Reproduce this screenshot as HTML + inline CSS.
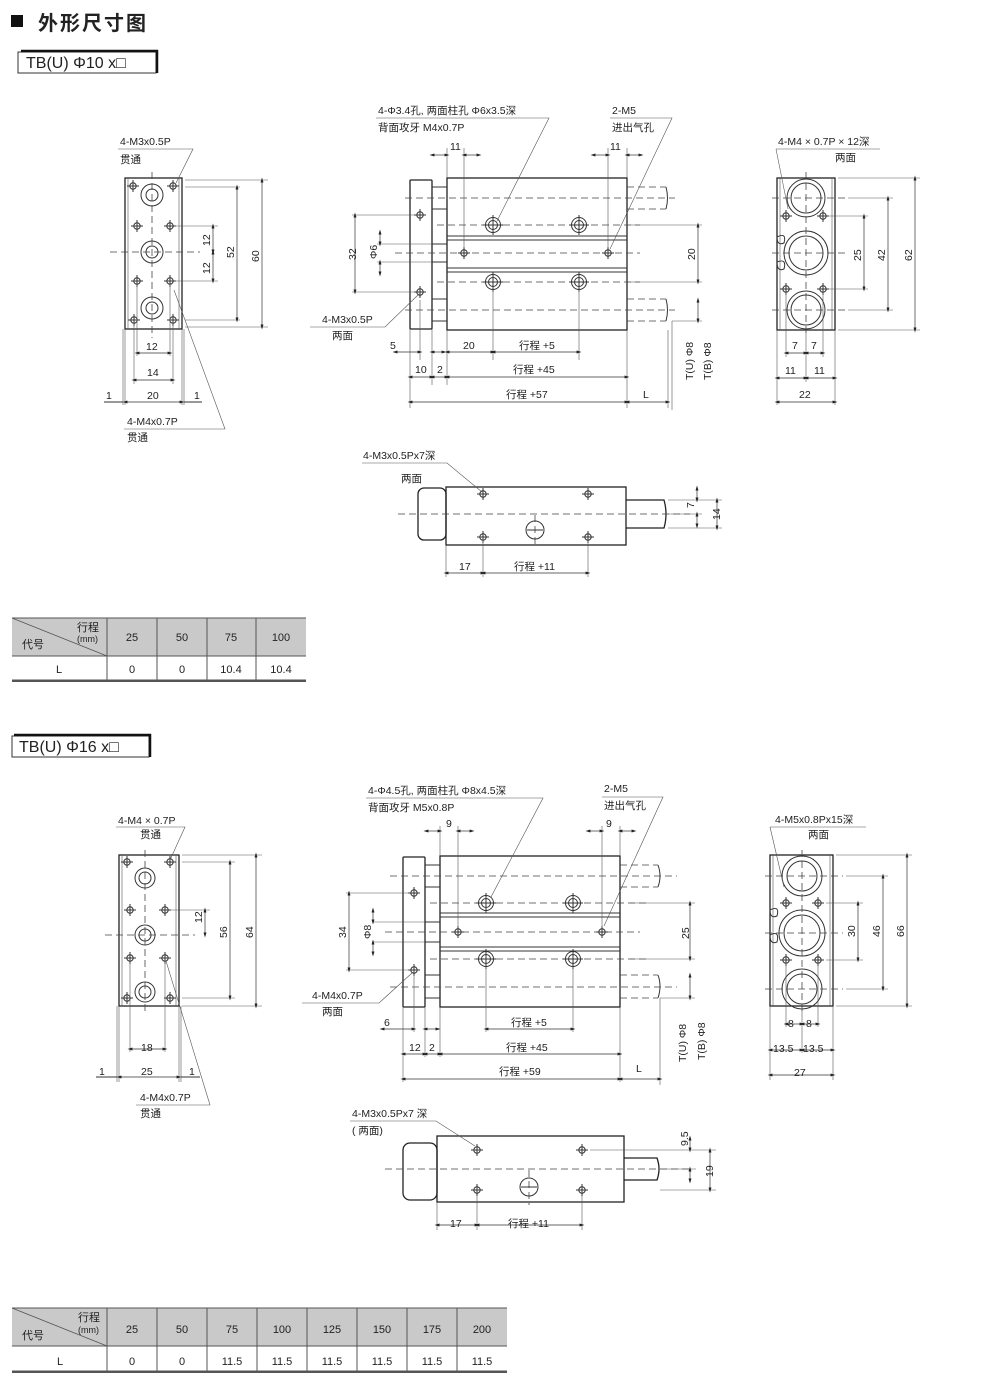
<!DOCTYPE html>
<html><head><meta charset="utf-8"><style>
html,body{margin:0;padding:0;background:#fff}
svg{display:block}
text{font-family:"Liberation Sans","Noto Sans CJK SC",sans-serif;fill:#222;font-size:10.5px}
.t{font-size:11px}
.l{stroke:#333;stroke-width:1;fill:none}
.b{stroke:#222;stroke-width:1.3;fill:none}
.d{stroke:#444;stroke-width:0.8;fill:none;stroke-dasharray:7 4}
.dm{stroke:#333;stroke-width:0.7;fill:none;marker-start:url(#a);marker-end:url(#a)}
.e{stroke:#555;stroke-width:0.6;fill:none}
</style></head><body>
<svg width="1000" height="1394" viewBox="0 0 1000 1394" xmlns="http://www.w3.org/2000/svg">
<defs>
<marker id="a" viewBox="0 0 10 10" refX="5" refY="5" markerWidth="7" markerHeight="7" orient="auto-start-reverse"><path d="M0,5 L10,2 L10,8z" fill="#222" transform="rotate(180 5 5)"/></marker>
<g id="x"><circle r="3.2" class="l"/><path d="M-6,0H6M0,-6V6" class="l" stroke-width="0.7"/></g>
<g id="c"><circle r="7.5" class="l"/><circle r="4.5" class="l"/><path d="M-10,0H10M0,-10V10" class="l" stroke-width="0.7"/></g>
</defs>

<!-- Title -->
<rect x="11" y="15" width="12" height="12" fill="#111"/>
<text x="38" y="30" style="font-size:20px;font-weight:bold;letter-spacing:2px">外形尺寸图</text>

<!-- Section 1 label -->
<rect x="18" y="52" width="138" height="21" fill="#fff" stroke="#333"/>
<path d="M21,51H157V73" stroke="#111" stroke-width="2.5" fill="none"/>
<text x="26" y="68" style="font-size:16px">TB(U)  Φ10 x□</text>

<!-- S1 left view -->
<rect x="125" y="178" width="57" height="151" class="b"/>
<path d="M128,178V329M179,178V329" class="e"/>
<circle cx="152" cy="195" r="11" class="l"/><circle cx="152" cy="195" r="6" class="l"/>
<circle cx="152" cy="252" r="11" class="l"/><circle cx="152" cy="252" r="6" class="l"/>
<circle cx="152" cy="308" r="11" class="l"/><circle cx="152" cy="308" r="6" class="l"/>
<path d="M152,172V338M110,252H200" class="d"/>
<use href="#x" x="133" y="186"/><use href="#x" x="173" y="186"/><use href="#x" x="137" y="226"/><use href="#x" x="170" y="226"/>
<use href="#x" x="137" y="281"/><use href="#x" x="170" y="281"/><use href="#x" x="134" y="320"/><use href="#x" x="173" y="320"/>
<path d="M185,180H268M185,187H240M175,226H218M175,281H218M185,320H240M185,327H268" class="e"/>
<line x1="262" y1="180" x2="262" y2="327" class="dm"/><text x="0" y="0" transform="translate(259,262) rotate(-90)">60</text>
<line x1="237" y1="187" x2="237" y2="320" class="dm"/><text transform="translate(234,258) rotate(-90)">52</text>
<line x1="213" y1="226" x2="213" y2="252" class="dm"/><text transform="translate(210,246) rotate(-90)">12</text>
<line x1="213" y1="252" x2="213" y2="281" class="dm"/><text transform="translate(210,274) rotate(-90)">12</text>
<path d="M137,284V356M170,284V356M134,323V384M173,323V384M125,329V405M182,329V405M123,329V405M184,329V405" class="e"/>
<line x1="137" y1="353" x2="170" y2="353" class="dm"/><text x="146" y="350">12</text>
<line x1="134" y1="380" x2="173" y2="380" class="dm"/><text x="147" y="376">14</text>
<line x1="125" y1="402" x2="182" y2="402" class="dm"/><text x="147" y="399">20</text>
<path d="M104,402H123M184,402H202" class="l"/><text x="106" y="399">1</text><text x="194" y="399">1</text>
<text x="120" y="145">4-M3x0.5P</text><text x="120" y="163">贯通</text>
<path d="M118,149H193L176,183" class="e"/>
<text x="127" y="425">4-M4x0.7P</text><text x="127" y="441">贯通</text>
<path d="M124,429H225L174,290" class="e"/>

<!-- S1 middle view -->
<rect x="410" y="180" width="22" height="149" class="b" rx="1"/>
<rect x="447" y="178" width="180" height="152" class="b"/>
<path d="M432,187H447M432,209H447M432,299H447M432,321H447M432,244H447M432,262H447" class="l"/>
<path d="M447,236H627M447,240H627M447,268H627M447,272H627" class="l"/>
<path d="M627,187H666M627,209H666M627,299H666M627,321H666" class="d"/>
<path d="M666,187Q669,198 666,209M666,299Q669,310 666,321" class="l"/>
<path d="M405,198H675M405,310H675M395,253H640M437,225H640M437,282H640" class="d"/>
<use href="#c" x="493" y="225"/><use href="#c" x="579" y="225"/><use href="#c" x="493" y="282"/><use href="#c" x="579" y="282"/>
<use href="#x" x="464" y="253"/><use href="#x" x="608" y="253"/>
<use href="#x" x="420" y="215"/><use href="#x" x="420" y="292"/>
<path d="M447,148V178M464,148V248M608,148V248M627,148V178" class="e"/>
<line x1="432" y1="155" x2="447" y2="155" class="dm"/><line x1="464" y1="155" x2="479" y2="155" class="dm"/><text x="450" y="150">11</text>
<line x1="593" y1="155" x2="608" y2="155" class="dm"/><line x1="627" y1="155" x2="641" y2="155" class="dm"/><text x="610" y="150">11</text>
<path d="M352,215H415M352,292H415M377,244H432M377,262H432" class="e"/>
<line x1="355" y1="215" x2="355" y2="292" class="dm"/><text transform="translate(356,260) rotate(-90)">32</text>
<line x1="380" y1="232" x2="380" y2="244" class="dm"/><line x1="380" y1="262" x2="380" y2="274" class="dm"/><text transform="translate(377,259) rotate(-90)">Φ6</text>
<path d="M630,225H702M630,282H702M672,321H702M672,321V410" class="e"/>
<line x1="698" y1="225" x2="698" y2="282" class="dm"/><text transform="translate(695,260) rotate(-90)">20</text>
<line x1="698" y1="300" x2="698" y2="321" class="dm"/>
<path d="M410,329V408M420,300V360M432,329V385M447,330V385M493,290V360M579,290V360M627,330V408M668,330V408" class="e"/>
<line x1="395" y1="352" x2="420" y2="352" class="dm"/><line x1="432" y1="352" x2="444" y2="352" class="dm"/><text x="390" y="349">5</text>
<line x1="447" y1="352" x2="493" y2="352" class="dm"/><text x="463" y="349">20</text>
<line x1="493" y1="352" x2="579" y2="352" class="dm"/><text x="519" y="349">行程 +5</text>
<line x1="410" y1="377" x2="432" y2="377" class="dm"/><text x="415" y="373">10</text>
<line x1="432" y1="377" x2="447" y2="377" class="dm"/><text x="437" y="373">2</text>
<line x1="447" y1="377" x2="627" y2="377" class="dm"/><text x="513" y="373">行程 +45</text>
<line x1="410" y1="402" x2="627" y2="402" class="dm"/><text x="506" y="398">行程 +57</text>
<line x1="627" y1="402" x2="668" y2="402" class="dm"/><text x="643" y="398">L</text>
<text transform="translate(693,380) rotate(-90)">T(U) Φ8</text>
<text transform="translate(711,380) rotate(-90)">T(B) Φ8</text>
<text x="378" y="114">4-Φ3.4孔, 两面柱孔 Φ6x3.5深</text><text x="378" y="131">背面攻牙  M4x0.7P</text>
<path d="M376,118H549L497,221" class="e"/>
<text x="612" y="114">2-M5</text><text x="612" y="131">进出气孔</text>
<path d="M610,118H672L610,249" class="e"/>
<text x="322" y="323">4-M3x0.5P</text><text x="332" y="339">两面</text>
<path d="M310,327H385L419,294" class="e"/>

<!-- S1 right view -->
<rect x="777" y="178" width="58" height="152" class="b"/>
<path d="M780,178V330M832,178V330" class="e"/>
<circle cx="806" cy="198" r="19" class="l"/><circle cx="806" cy="198" r="15" class="l"/>
<circle cx="806" cy="253" r="22" class="l"/><circle cx="806" cy="253" r="17" class="l"/>
<circle cx="806" cy="310" r="19" class="l"/><circle cx="806" cy="310" r="15" class="l"/>
<path d="M777,237Q787,232 784,243Q777,246 777,237M777,262Q787,258 784,269Q777,272 777,262" fill="#fff" class="l"/>
<path d="M806,172V335M772,198H845M772,253H845M772,310H845" class="d"/>
<use href="#x" x="786" y="216"/><use href="#x" x="823" y="216"/><use href="#x" x="786" y="289"/><use href="#x" x="823" y="289"/>
<path d="M838,178H920M848,198H893M828,216H868M828,289H868M848,310H893M838,330H920" class="e"/>
<line x1="915" y1="178" x2="915" y2="330" class="dm"/><text transform="translate(912,261) rotate(-90)">62</text>
<line x1="888" y1="198" x2="888" y2="310" class="dm"/><text transform="translate(885,261) rotate(-90)">42</text>
<line x1="864" y1="216" x2="864" y2="289" class="dm"/><text transform="translate(861,261) rotate(-90)">25</text>
<path d="M777,330V405M786,292V357M806,330V382M823,292V357M835,330V405" class="e"/>
<line x1="786" y1="353" x2="806" y2="353" class="dm"/><line x1="806" y1="353" x2="823" y2="353" class="dm"/><text x="792" y="349">7</text><text x="811" y="349">7</text>
<line x1="777" y1="378" x2="806" y2="378" class="dm"/><line x1="806" y1="378" x2="835" y2="378" class="dm"/><text x="785" y="374">11</text><text x="814" y="374">11</text>
<line x1="777" y1="402" x2="835" y2="402" class="dm"/><text x="799" y="398">22</text>
<text x="778" y="145">4-M4 × 0.7P × 12深</text><text x="835" y="161">两面</text>
<path d="M776,149H880M776,149L788,209" class="e"/>

<!-- S1 bottom view -->
<rect x="418" y="488" width="28" height="52" rx="6" class="b"/>
<rect x="446" y="487" width="180" height="58" class="b"/>
<path d="M626,500H664Q668,514 664,528H626" class="b"/>
<path d="M398,514H690M535,515V548" class="d"/>
<use href="#x" x="483" y="494"/><use href="#x" x="483" y="537"/><use href="#x" x="588" y="494"/><use href="#x" x="588" y="537"/>
<circle cx="535" cy="530" r="9" class="l"/><path d="M527,530H543" class="l"/>
<path d="M668,500H722M668,514H702M668,528H722" class="e"/>
<line x1="697" y1="488" x2="697" y2="500" class="dm"/><line x1="697" y1="514" x2="697" y2="526" class="dm"/><text transform="translate(694,508) rotate(-90)">7</text>
<line x1="717" y1="500" x2="717" y2="528" class="dm"/><text transform="translate(720,520) rotate(-90)">14</text>
<path d="M446,545V577M483,540V577M588,540V577" class="e"/>
<line x1="446" y1="573" x2="483" y2="573" class="dm"/><text x="459" y="570">17</text>
<line x1="483" y1="573" x2="588" y2="573" class="dm"/><text x="514" y="570">行程 +11</text>
<text x="363" y="459">4-M3x0.5Px7深</text><text x="401" y="482">两面</text>
<path d="M362,463H447L482,492" class="e"/>

<!-- Table 1 -->
<rect x="12" y="618" width="294" height="38" fill="#c9c9c9"/>
<path d="M12,618H306M12,656H306M12,680H306" stroke="#555" stroke-width="1"/>
<path d="M12,681H306" stroke="#555" stroke-width="2"/>
<path d="M107,618V680M157,618V680M207,618V680M256,618V680" stroke="#555"/>
<path d="M12,618L107,656" stroke="#555" stroke-width="0.8"/>
<text x="77" y="631" class="t">行程</text><text x="77" y="642" style="font-size:9px">(mm)</text><text x="22" y="648" class="t">代号</text>
<g class="t" text-anchor="middle"><text x="132" y="641" class="t">25</text><text x="182" y="641" class="t">50</text><text x="231" y="641" class="t">75</text><text x="281" y="641" class="t">100</text>
<text x="59" y="673" class="t">L</text><text x="132" y="673" class="t">0</text><text x="182" y="673" class="t">0</text><text x="231" y="673" class="t">10.4</text><text x="281" y="673" class="t">10.4</text></g>

<!-- Section 2 label -->
<rect x="12" y="736" width="137" height="21" fill="#fff" stroke="#333"/>
<path d="M14,735H150V757" stroke="#111" stroke-width="2.5" fill="none"/>
<text x="19" y="752" style="font-size:16px">TB(U)  Φ16 x□</text>

<!-- S2 left view -->
<rect x="119" y="855" width="60" height="151" class="b"/>
<path d="M122,855V1006M176,855V1006" class="e"/>
<circle cx="145" cy="878" r="10" class="l"/><circle cx="145" cy="878" r="6" class="l"/>
<circle cx="145" cy="935" r="10" class="l"/><circle cx="145" cy="935" r="6" class="l"/>
<circle cx="145" cy="992" r="10" class="l"/><circle cx="145" cy="992" r="6" class="l"/>
<path d="M145,850V1015M105,935H195" class="d"/>
<use href="#x" x="127" y="862"/><use href="#x" x="170" y="862"/><use href="#x" x="130" y="910"/><use href="#x" x="165" y="910"/>
<use href="#x" x="130" y="958"/><use href="#x" x="165" y="958"/><use href="#x" x="127" y="998"/><use href="#x" x="170" y="998"/>
<path d="M182,855H262M182,862H235M170,910H210M182,998H235M182,1006H262" class="e"/>
<line x1="256" y1="855" x2="256" y2="1006" class="dm"/><text transform="translate(253,938) rotate(-90)">64</text>
<line x1="230" y1="862" x2="230" y2="998" class="dm"/><text transform="translate(227,938) rotate(-90)">56</text>
<line x1="205" y1="910" x2="205" y2="935" class="dm"/><text transform="translate(202,923) rotate(-90)">12</text>
<path d="M130,961V1052M165,961V1052M119,1006V1082M179,1006V1082M117,1006V1082M181,1006V1082" class="e"/>
<line x1="130" y1="1049" x2="165" y2="1049" class="dm"/><text x="141" y="1051">18</text>
<line x1="119" y1="1077" x2="179" y2="1077" class="dm"/><text x="141" y="1075">25</text>
<path d="M96,1077H117M181,1077H200" class="l"/><text x="99" y="1075">1</text><text x="189" y="1075">1</text>
<text x="118" y="824">4-M4 × 0.7P</text><text x="140" y="838">贯通</text>
<path d="M116,827H185L170,860" class="e"/>
<text x="140" y="1101">4-M4x0.7P</text><text x="140" y="1117">贯通</text>
<path d="M136,1105H210L166,961" class="e"/>

<!-- S2 middle view -->
<rect x="403" y="857" width="22" height="150" class="b" rx="1"/>
<rect x="440" y="856" width="180" height="151" class="b"/>
<path d="M425,865H440M425,887H440M425,975H440M425,998H440M425,922H440M425,942H440" class="l"/>
<path d="M440,913H620M440,917H620M440,947H620M440,951H620" class="l"/>
<path d="M620,865H658M620,887H658M620,975H658M620,998H658" class="d"/>
<path d="M658,865Q662,876 658,887M658,975Q662,986 658,998" class="l"/>
<path d="M390,876H677M390,987H677M385,932H640M430,903H650M430,959H650" class="d"/>
<use href="#c" x="486" y="903"/><use href="#c" x="573" y="903"/><use href="#c" x="486" y="959"/><use href="#c" x="573" y="959"/>
<use href="#x" x="458" y="932"/><use href="#x" x="602" y="932"/>
<use href="#x" x="414" y="893"/><use href="#x" x="414" y="970"/>
<path d="M440,826V856M458,826V928M602,826V928M620,826V856" class="e"/>
<line x1="426" y1="831" x2="440" y2="831" class="dm"/><line x1="458" y1="831" x2="472" y2="831" class="dm"/><text x="446" y="827">9</text>
<line x1="588" y1="831" x2="602" y2="831" class="dm"/><line x1="620" y1="831" x2="634" y2="831" class="dm"/><text x="606" y="827">9</text>
<path d="M346,893H410M346,970H410M372,922H425M372,942H425" class="e"/>
<line x1="349" y1="893" x2="349" y2="970" class="dm"/><text transform="translate(346,938) rotate(-90)">34</text>
<line x1="373" y1="910" x2="373" y2="922" class="dm"/><line x1="373" y1="942" x2="373" y2="954" class="dm"/><text transform="translate(371,939) rotate(-90)">Φ8</text>
<path d="M630,903H695M630,959H695M660,998H695M660,998V1085" class="e"/>
<line x1="690" y1="903" x2="690" y2="959" class="dm"/><text transform="translate(689,939) rotate(-90)">25</text>
<line x1="690" y1="975" x2="690" y2="998" class="dm"/>
<path d="M403,1007V1082M414,975V1032M425,1007V1057M440,1007V1057M486,967V1032M573,967V1032M620,1007V1082" class="e"/>
<line x1="382" y1="1029" x2="414" y2="1029" class="dm"/><line x1="425" y1="1029" x2="438" y2="1029" class="dm"/><text x="384" y="1026">6</text>
<line x1="486" y1="1029" x2="573" y2="1029" class="dm"/><text x="511" y="1026">行程 +5</text>
<line x1="403" y1="1054" x2="425" y2="1054" class="dm"/><text x="409" y="1051">12</text>
<line x1="425" y1="1054" x2="440" y2="1054" class="dm"/><text x="429" y="1051">2</text>
<line x1="440" y1="1054" x2="620" y2="1054" class="dm"/><text x="506" y="1051">行程 +45</text>
<line x1="403" y1="1079" x2="620" y2="1079" class="dm"/><text x="499" y="1075">行程 +59</text>
<line x1="620" y1="1079" x2="660" y2="1079" class="dm"/><text x="636" y="1072">L</text>
<text transform="translate(686,1062) rotate(-90)">T(U) Φ8</text>
<text transform="translate(705,1060) rotate(-90)">T(B) Φ8</text>
<text x="368" y="794">4-Φ4.5孔, 两面柱孔 Φ8x4.5深</text><text x="368" y="811">背面攻牙  M5x0.8P</text>
<path d="M366,798H543L491,897" class="e"/>
<text x="604" y="792">2-M5</text><text x="604" y="809">进出气孔</text>
<path d="M602,797H663L604,926" class="e"/>
<text x="312" y="999">4-M4x0.7P</text><text x="322" y="1015">两面</text>
<path d="M302,1003H379L412,973" class="e"/>

<!-- S2 right view -->
<rect x="770" y="855" width="63" height="151" class="b"/>
<path d="M773,855V1006M830,855V1006" class="e"/>
<circle cx="802" cy="876" r="20" class="l"/><circle cx="802" cy="876" r="15" class="l"/>
<circle cx="802" cy="933" r="23" class="l"/><circle cx="802" cy="933" r="18" class="l"/>
<circle cx="802" cy="989" r="20" class="l"/><circle cx="802" cy="989" r="15" class="l"/>
<path d="M770,910Q780,905 777,916Q770,919 770,910M770,935Q780,930 777,942Q770,945 770,935" fill="#fff" class="l"/>
<path d="M802,850V1012M765,876H843M765,933H843M765,989H843" class="d"/>
<use href="#x" x="786" y="903"/><use href="#x" x="818" y="903"/><use href="#x" x="786" y="960"/><use href="#x" x="818" y="960"/>
<path d="M836,855H912M846,876H888M826,903H863M826,960H863M846,989H888M836,1006H912" class="e"/>
<line x1="907" y1="855" x2="907" y2="1006" class="dm"/><text transform="translate(904,937) rotate(-90)">66</text>
<line x1="883" y1="876" x2="883" y2="989" class="dm"/><text transform="translate(880,937) rotate(-90)">46</text>
<line x1="858" y1="903" x2="858" y2="960" class="dm"/><text transform="translate(855,937) rotate(-90)">30</text>
<path d="M770,1006V1080M786,963V1027M802,1006V1053M818,963V1027M833,1006V1080" class="e"/>
<line x1="786" y1="1024" x2="802" y2="1024" class="dm"/><line x1="802" y1="1024" x2="818" y2="1024" class="dm"/><text x="788" y="1027">8</text><text x="806" y="1027">8</text>
<line x1="770" y1="1050" x2="802" y2="1050" class="dm"/><line x1="802" y1="1050" x2="833" y2="1050" class="dm"/><text x="773" y="1052">13.5</text><text x="803" y="1052">13.5</text>
<line x1="770" y1="1075" x2="833" y2="1075" class="dm"/><text x="794" y="1076">27</text>
<text x="775" y="823">4-M5x0.8Px15深</text><text x="808" y="838">两面</text>
<path d="M770,827H866M770,827L784,887" class="e"/>

<!-- S2 bottom view -->
<rect x="403" y="1143" width="34" height="57" rx="7" class="b"/>
<rect x="437" y="1136" width="187" height="66" class="b"/>
<path d="M624,1158H657Q661,1169 657,1180H624" class="b"/>
<path d="M385,1169H690M529,1170V1205" class="d"/>
<use href="#x" x="477" y="1150"/><use href="#x" x="477" y="1190"/><use href="#x" x="582" y="1150"/><use href="#x" x="582" y="1190"/>
<circle cx="529" cy="1187" r="9" class="l"/><path d="M521,1187H537" class="l"/>
<path d="M590,1150H716M660,1169H696M660,1190H716" class="e"/>
<line x1="690" y1="1138" x2="690" y2="1150" class="dm"/><line x1="690" y1="1169" x2="690" y2="1181" class="dm"/><text transform="translate(688,1146) rotate(-90)">9.5</text>
<line x1="710" y1="1150" x2="710" y2="1190" class="dm"/><text transform="translate(713,1177) rotate(-90)">19</text>
<path d="M437,1202V1230M477,1196V1230M582,1196V1230" class="e"/>
<line x1="437" y1="1225" x2="477" y2="1225" class="dm"/><text x="450" y="1227">17</text>
<line x1="477" y1="1225" x2="582" y2="1225" class="dm"/><text x="508" y="1227">行程 +11</text>
<text x="352" y="1117">4-M3x0.5Px7 深</text><text x="352" y="1134">( 两面)</text>
<path d="M350,1121H436L475,1146" class="e"/>

<!-- Table 2 -->
<rect x="12" y="1308" width="495" height="38" fill="#c9c9c9"/>
<path d="M12,1308H507M12,1346H507M12,1371H507" stroke="#555" stroke-width="1"/>
<path d="M12,1372H507" stroke="#555" stroke-width="2"/>
<path d="M107,1308V1371M157,1308V1371M207,1308V1371M257,1308V1371M307,1308V1371M357,1308V1371M407,1308V1371M457,1308V1371" stroke="#555"/>
<path d="M12,1308L107,1346" stroke="#555" stroke-width="0.8"/>
<text x="78" y="1321" class="t">行程</text><text x="78" y="1333" style="font-size:9px">(mm)</text><text x="22" y="1339" class="t">代号</text>
<g text-anchor="middle"><text x="132" y="1333" class="t">25</text><text x="182" y="1333" class="t">50</text><text x="232" y="1333" class="t">75</text><text x="282" y="1333" class="t">100</text><text x="332" y="1333" class="t">125</text><text x="382" y="1333" class="t">150</text><text x="432" y="1333" class="t">175</text><text x="482" y="1333" class="t">200</text>
<text x="60" y="1365" class="t">L</text><text x="132" y="1365" class="t">0</text><text x="182" y="1365" class="t">0</text><text x="232" y="1365" class="t">11.5</text><text x="282" y="1365" class="t">11.5</text><text x="332" y="1365" class="t">11.5</text><text x="382" y="1365" class="t">11.5</text><text x="432" y="1365" class="t">11.5</text><text x="482" y="1365" class="t">11.5</text></g>
</svg>
</body></html>
